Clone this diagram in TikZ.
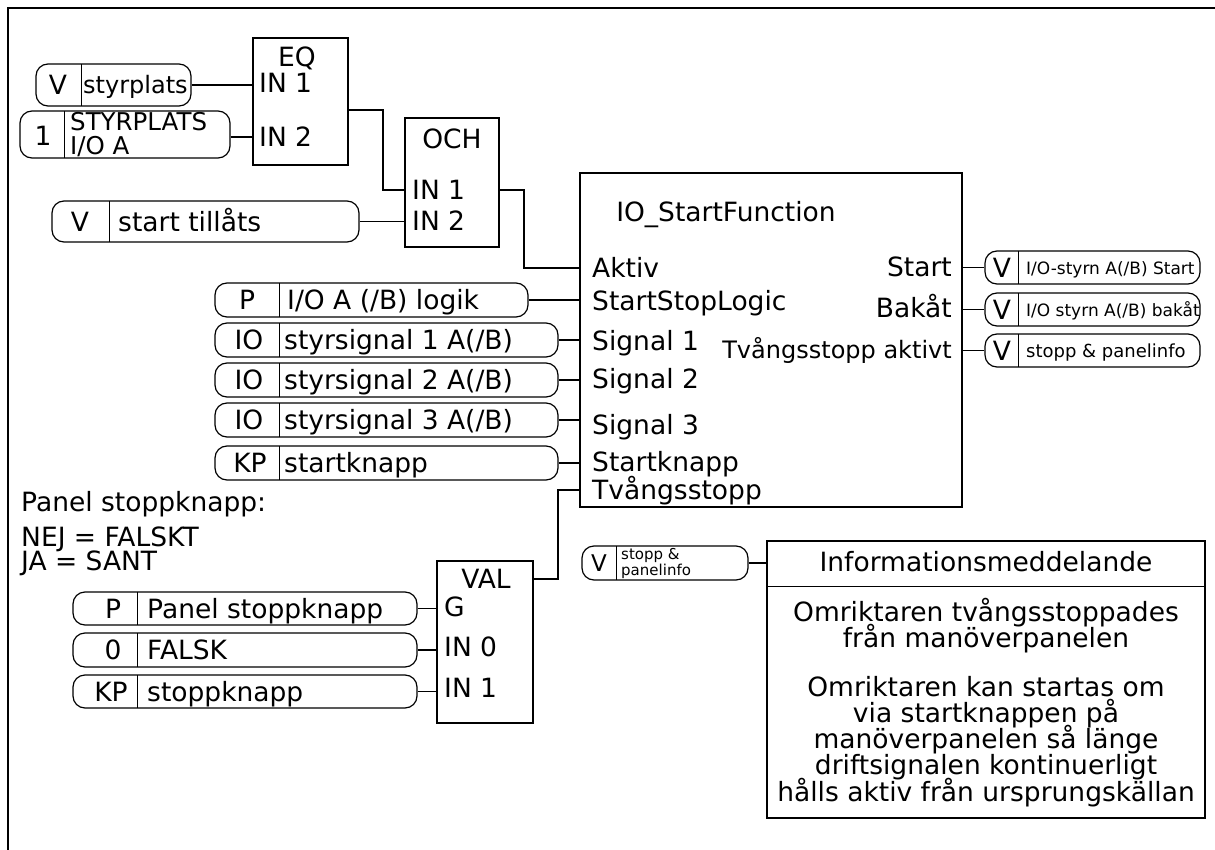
\documentclass[tikz,border=0pt]{standalone}
\usepackage{fontspec}
\setmainfont{DejaVu Sans}
\usepackage{tikz}

\begin{document}
\begin{tikzpicture}[x=1pt, y=-1pt,
    txt/.style={inner sep=0pt, font=\fontsize{26.5}{26.5}\selectfont, text height=19.3pt, text depth=0pt},
    mid/.style={inner sep=0pt, font=\fontsize{24}{24}\selectfont, text height=17.5pt, text depth=0pt},
    sml/.style={inner sep=0pt, font=\fontsize{17}{17}\selectfont, text height=12.4pt, text depth=0pt},
    tiny/.style={inner sep=0pt, font=\fontsize{15}{15}\selectfont, text height=10.9pt, text depth=0pt},
    blk/.style={draw, line width=1.8pt, inner sep=0pt},
    pill/.style={draw, line width=1.2pt, rounded corners=12pt, inner sep=0pt,
      path picture={\draw[line width=0.8pt] ([xshift=#1]path picture bounding box.north west) -- ([xshift=#1]path picture bounding box.south west);}},
    wire/.style={line width=1.8pt}]
  \useasboundingbox (0,0) rectangle (1215,850);
  \draw[line width=2pt] (8,850) -- (8,8) -- (1215,8);

  % EQ block and its inputs
  \node[blk, minimum width=95pt, minimum height=127pt] (EQ) at (300.5,101.5) {};
  \node[txt] (EQt) at (297,57) {EQ};
  \node[txt, anchor=west] (EQa) at (259,83) {IN 1};
  \node[txt, anchor=west] (EQb) at (259,137) {IN 2};
  \node[pill=45pt, minimum width=155pt, minimum height=42pt] (S1) at (113.5,85) {};
  \node[txt] (S1t) at (58,85) {V};
  \node[mid, anchor=west] (S1l) at (83,85) {styrplats};
  \node[pill=44pt, minimum width=210pt, minimum height=47pt] (S2) at (125,134.5) {};
  \node[txt] (S2t) at (43,136) {1};
  \node[mid, font=\fontsize{24.5}{24.5}\selectfont, text height=17.9pt, anchor=west] (S2l) at (70,122) {STYRPLATS};
  \node[mid, font=\fontsize{24.5}{24.5}\selectfont, text height=17.9pt, anchor=west] (S2m) at (70,146) {I/O A};
  \draw[wire] (S1.east) -- (S1.east -| EQ.west);
  \draw[wire] (EQb -| S2.east) -- (EQb -| EQ.west);

  % OCH block
  \node[blk, minimum width=94pt, minimum height=129pt] (OCH) at (452,182.5) {};
  \node[txt] (OCHt) at (452,139) {OCH};
  \node[txt, anchor=west] (OCHa) at (412,190) {IN 1};
  \node[txt, anchor=west] (OCHb) at (412,221) {IN 2};
  \node[pill=57pt, minimum width=307pt, minimum height=41pt] (S3) at (205.5,221.5) {};
  \node[txt] (S3t) at (80,221.5) {V};
  \node[txt, anchor=west] (S3l) at (118,221.5) {start tillåts};
  \draw[wire] ([yshift=-8.5pt]EQ.east) -- ++(34,0) |- (OCHa -| OCH.west);
  \draw[wire] (S3.east) -- (S3.east -| OCH.west);

  % main block
  \node[blk, minimum width=382pt, minimum height=334pt] (M) at (771,340) {};
  \node[txt] (Mt) at (726,212) {IO\_StartFunction};
  \node[txt, anchor=west] (Ma) at (592,268) {Aktiv};
  \node[txt, anchor=west] (Mb) at (592,301) {StartStopLogic};
  \node[txt, anchor=west] (Mc) at (592,341) {Signal 1};
  \node[txt, anchor=west] (Md) at (592,379) {Signal 2};
  \node[txt, anchor=west] (Me) at (592,425) {Signal 3};
  \node[txt, anchor=west] (Mf) at (592,462) {Startknapp};
  \node[txt, anchor=west] (Mg) at (592,490) {Tvångsstopp};
  \node[txt, anchor=east] (Mx) at (952,267) {Start};
  \node[txt, anchor=east] (My) at (952,308) {Bakåt};
  \node[mid, anchor=east] (Mz) at (952,350) {Tvångsstopp aktivt};
  \draw[wire] (OCHa -| OCH.east) -- ++(24,0) |- (Ma -| M.west);

  % left inputs
  \node[pill=64pt, minimum width=313pt, minimum height=34pt] (L1) at (371.5,300) {};
  \node[txt] (L1t) at (247,300) {P};
  \node[txt, anchor=west] (L1l) at (287,300) {I/O A (/B) logik};
  \node[pill=64pt, minimum width=343pt, minimum height=34pt] (L2) at (386.5,340) {};
  \node[txt] (L2t) at (249,340) {IO};
  \node[txt, anchor=west] (L2l) at (284,340) {styrsignal 1 A(/B)};
  \node[pill=64pt, minimum width=343pt, minimum height=34pt] (L3) at (386.5,380) {};
  \node[txt] (L3t) at (249,380) {IO};
  \node[txt, anchor=west] (L3l) at (284,380) {styrsignal 2 A(/B)};
  \node[pill=64pt, minimum width=343pt, minimum height=34pt] (L4) at (386.5,420) {};
  \node[txt] (L4t) at (249,420) {IO};
  \node[txt, anchor=west] (L4l) at (284,420) {styrsignal 3 A(/B)};
  \node[pill=64pt, minimum width=343pt, minimum height=34pt] (L5) at (386.5,463) {};
  \node[txt] (L5t) at (250,463) {KP};
  \node[txt, anchor=west] (L5l) at (284,463) {startknapp};
  \draw[wire] (L1.east) -- (L1.east -| M.west);
  \draw[wire] (L2.east) -- (L2.east -| M.west);
  \draw[wire] (L3.east) -- (L3.east -| M.west);
  \draw[wire] (L4.east) -- (L4.east -| M.west);
  \draw[wire] (L5.east) -- (L5.east -| M.west);

  % panel stop note
  \node[txt, anchor=west] (N1) at (21,502) {Panel stoppknapp:};
  \node[txt, anchor=west] (N2) at (21,537) {NEJ = FALSKT};
  \node[txt, anchor=west] (N3) at (21,561) {JA = SANT};

  % VAL block
  \node[blk, minimum width=96pt, minimum height=162pt] (VAL) at (485,642) {};
  \node[txt] (VALt) at (486,579) {VAL};
  \node[txt, anchor=west] (VALa) at (444,607) {G};
  \node[txt, anchor=west] (VALb) at (444,647) {IN 0};
  \node[txt, anchor=west] (VALc) at (444,688) {IN 1};
  \node[pill=64pt, minimum width=344pt, minimum height=33pt] (B1) at (245,608.5) {};
  \node[txt] (B1t) at (113,608.5) {P};
  \node[txt, anchor=west] (B1l) at (147,608.5) {Panel stoppknapp};
  \node[pill=64pt, minimum width=344pt, minimum height=34pt] (B2) at (245,650) {};
  \node[txt] (B2t) at (113,650) {0};
  \node[txt, anchor=west] (B2l) at (147,650) {FALSK};
  \node[pill=64pt, minimum width=344pt, minimum height=33pt] (B3) at (245,691.5) {};
  \node[txt] (B3t) at (111,691.5) {KP};
  \node[txt, anchor=west] (B3l) at (147,691.5) {stoppknapp};
  \draw[wire] (B1.east) -- (B1.east -| VAL.west);
  \draw[wire] (B2.east) -- (B2.east -| VAL.west);
  \draw[wire] (B3.east) -- (B3.east -| VAL.west);
  \draw[wire] (VALt -| VAL.east) -- ++(24,0) |- (Mg -| M.west);

  % outputs
  \node[pill=33pt, minimum width=215pt, minimum height=33pt] (R1) at (1092.5,267.5) {};
  \node[txt] (R1t) at (1002,268) {V};
  \node[sml, anchor=west] (R1l) at (1026,268) {I/O-styrn A(/B) Start};
  \node[pill=33pt, minimum width=215pt, minimum height=33pt] (R2) at (1092.5,309.5) {};
  \node[txt] (R2t) at (1002,310) {V};
  \node[sml, anchor=west] (R2l) at (1026,310) {I/O styrn A(/B) bakåt};
  \node[pill=33pt, minimum width=215pt, minimum height=33pt] (R3) at (1092.5,350.5) {};
  \node[txt] (R3t) at (1002,351) {V};
  \node[sml, anchor=west, font=\fontsize{18}{18}\selectfont, text height=13.1pt] (R3l) at (1026,351) {stopp \& panelinfo};
  \draw[wire] (R1.west -| M.east) -- (R1.west);
  \draw[wire] (R2.west -| M.east) -- (R2.west);
  \draw[wire] (R3.west -| M.east) -- (R3.west);

  % information message
  \node[pill=34pt, minimum width=166pt, minimum height=34pt] (I0) at (665,563) {};
  \node[txt, font=\fontsize{23}{23}\selectfont, text height=16.8pt] (I0t) at (599,563) {V};
  \node[tiny, anchor=west] (I0l) at (621,554) {stopp \&};
  \node[tiny, anchor=west] (I0m) at (621,570) {panelinfo};
  \node[draw, line width=1.4pt, inner sep=0pt, minimum width=438pt, minimum height=277pt] (INF) at (986,679.5) {};
  \draw[line width=1.4pt] ([yshift=-46pt]INF.north west) -- ([yshift=-46pt]INF.north east);
  \node[txt] (INFh) at (986,562) {Informationsmeddelande};
  \node[txt] (INF1) at (986,612) {Omriktaren tvångsstoppades};
  \node[txt] (INF2) at (986,638) {från manöverpanelen};
  \node[txt] (INF3) at (986,687) {Omriktaren kan startas om};
  \node[txt] (INF4) at (986,713) {via startknappen på};
  \node[txt] (INF5) at (986,739) {manöverpanelen så länge};
  \node[txt] (INF6) at (986,765) {driftsignalen kontinuerligt};
  \node[txt] (INF7) at (986,792) {hålls aktiv från ursprungskällan};
  \draw[wire] (I0.east) -- (I0.east -| INF.west);
\end{tikzpicture}
\end{document}
